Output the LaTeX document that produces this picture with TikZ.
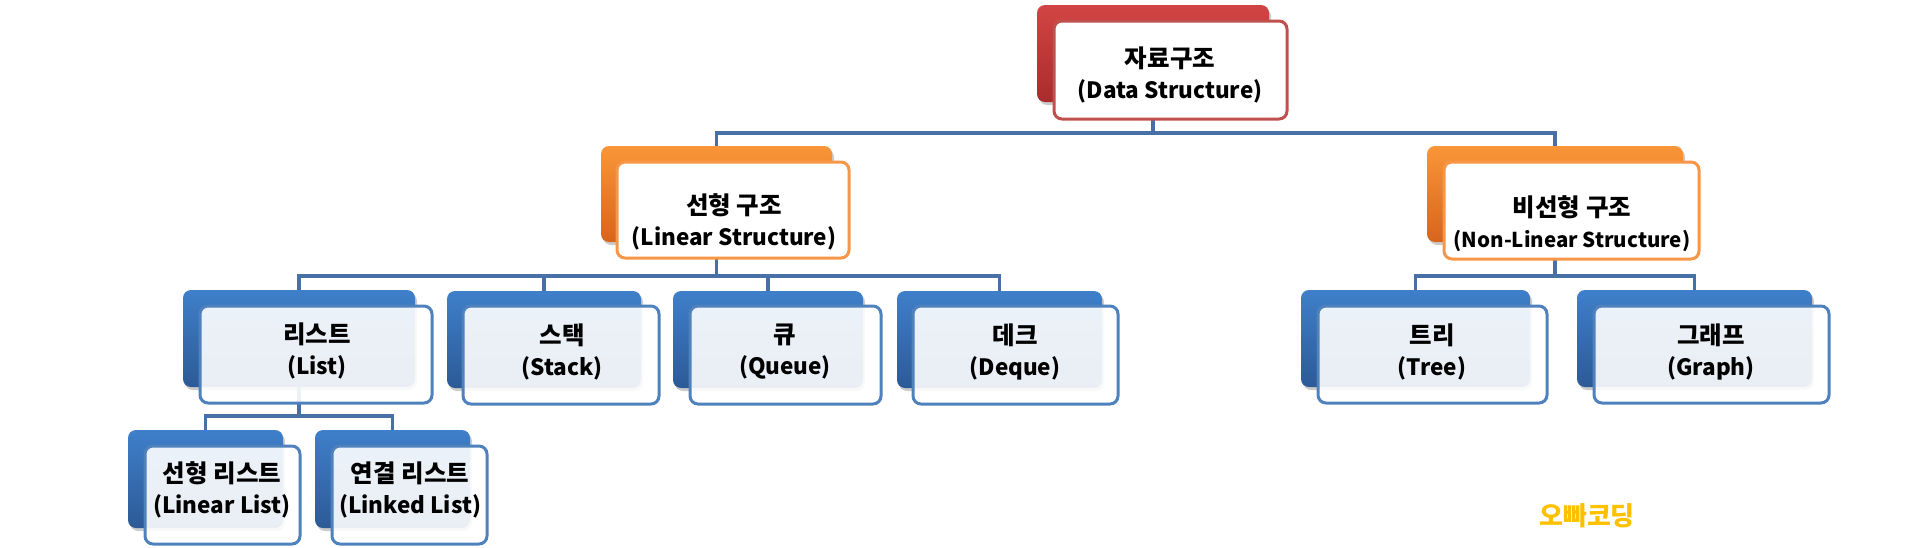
\documentclass[tikz,border=0pt]{standalone}
\usepackage{fontspec}
\newfontfamily\kr{Noto Sans CJK KR}
\usetikzlibrary{shadows}
\pgfdeclarelayer{bg}
\pgfsetlayers{bg,main}
\definecolor{conncol}{HTML}{4670A6}
\definecolor{redtop}{HTML}{D24444}
\definecolor{redbot}{HTML}{A92C2C}
\definecolor{redline}{HTML}{C0504D}
\definecolor{ortop}{HTML}{F99638}
\definecolor{orbot}{HTML}{D8641C}
\definecolor{orline}{HTML}{F79646}
\definecolor{bltop}{HTML}{3F7FCA}
\definecolor{blbot}{HTML}{2C5A96}
\definecolor{blline}{HTML}{4F81BD}
\definecolor{wmark}{HTML}{FFC000}
\newcommand\kl{\fontsize{24.5}{31}\selectfont}
\newcommand\el{\fontsize{22.5}{31}\selectfont}
\newcommand\es{\fontsize{20.5}{31}\selectfont}
\newcommand\klt{\fontsize{24.5}{26.5}\selectfont}
\newcommand\elt{\fontsize{22.5}{26.5}\selectfont}
\tikzset{
  conn/.style={draw=conncol, line width=3.6pt},
  boxbase/.style={rectangle, rounded corners=8pt, inner sep=0pt, outer sep=0pt},
  shad/.style={drop shadow={opacity=0.45, shadow xshift=2pt, shadow yshift=-3pt, fill=black!45}},
  backred/.style={boxbase, shad, top color=redtop, bottom color=redbot},
  backor/.style={boxbase, shad, top color=ortop, bottom color=orbot},
  backbl/.style={boxbase, shad, top color=bltop, bottom color=blbot},
  frontred/.style={boxbase, fill=white, draw=redline, line width=3pt},
  frontor/.style={boxbase, fill=white, draw=orline, line width=3pt},
  frontbl/.style={boxbase, fill=white, fill opacity=0.9, draw=blline, line width=3pt},
  lbl/.style={align=center, inner sep=0pt, text=black, font=\kr\bfseries\fontsize{22.5}{31}\selectfont},
}
\newcommand\bx[6]{%
  \node[#6, minimum width={#4pt-#2pt}, minimum height={#5pt-#3pt}] (#1) at ({(#2+#4)/2},{(#3+#5)/2}) {};}
\begin{document}
\begin{tikzpicture}[x=1pt, y=-1pt]
\useasboundingbox (0,0) rectangle (1924,547);
\coordinate (busA) at (0,133);
\coordinate (busB) at (0,276);
\coordinate (busC) at (0,416);
% back boxes
\bx{topb}{1037}{5}{1269}{102}{backred}
\bx{linb}{601}{146}{832}{242}{backor}
\bx{nonb}{1427}{146}{1683}{242}{backor}
\bx{listb}{183}{290}{415}{387}{backbl}
\bx{stackb}{447}{291}{641}{388}{backbl}
\bx{queueb}{673}{291}{863}{388}{backbl}
\bx{dequeb}{897}{291}{1102}{388}{backbl}
\bx{treeb}{1301}{290}{1530}{387}{backbl}
\bx{graphb}{1577}{290}{1812}{387}{backbl}
\bx{llb}{128}{430}{283}{528}{backbl}
\bx{lkb}{315}{430}{470}{528}{backbl}
% front boxes
\bx{top}{1054}{21}{1287}{119}{frontred}
\bx{lin}{617}{162}{849}{258}{frontor}
\bx{non}{1444}{162}{1699}{259}{frontor}
\bx{list}{200}{306}{432}{403}{frontbl}
\bx{stack}{463}{306}{659}{404}{frontbl}
\bx{queue}{690}{306}{881}{404}{frontbl}
\bx{deque}{913}{306}{1118}{404}{frontbl}
\bx{tree}{1318}{306}{1547}{403}{frontbl}
\bx{graph}{1594}{306}{1829}{403}{frontbl}
\bx{ll}{145}{446}{300}{544}{frontbl}
\bx{lk}{332}{446}{487}{544}{frontbl}
% connectors (behind)
\begin{pgfonlayer}{bg}
\draw[conn] (topb.center) -- (topb.center |- busA) -| (linb.north);
\draw[conn] (topb.center |- busA) -| (nonb.north);
\draw[conn] (linb.center) -- (linb.center |- busB) -| (listb.north);
\draw[conn] (linb.center |- busB) -| (dequeb.north);
\draw[conn] (stackb.north |- busB) -- (stackb.north);
\draw[conn] (queueb.north |- busB) -- (queueb.north);
\draw[conn] (nonb.center) -- (nonb.center |- busB) -| (treeb.north);
\draw[conn] (nonb.center |- busB) -| (graphb.north);
\draw[conn] (listb.center) -- (listb.center |- busC) -| (llb.north);
\draw[conn] (listb.center |- busC) -| (lkb.north);
\end{pgfonlayer}
% labels
\node[lbl] (ttop) at (1170,75) {\klt 자료구조\\\elt (Data Structure)};
\node[lbl] (tlin) at (734,222) {\kl 선형 구조\\\el (Linear Structure)};
\node[lbl] (tnon) at (1572,224) {\kl 비선형 구조\\\es (Non-Linear Structure)};
\node[lbl] (tlist) at (317,351) {\kl 리스트\\\el (List)};
\node[lbl] (tstack) at (562,352) {\kl 스택\\\el (Stack)};
\node[lbl] (tqueue) at (785,352) {\kl 큐\\\el (Queue)};
\node[lbl] (tdeque) at (1015,352) {\kl 데크\\\el (Deque)};
\node[lbl] (ttree) at (1432,352) {\kl 트리\\\el (Tree)};
\node[lbl] (tgraph) at (1711,352) {\kl 그래프\\\el (Graph)};
\node[lbl] (tll) at (222,490) {\kl 선형 리스트\\\el (Linear List)};
\node[lbl] (tlk) at (410,490) {\kl 연결 리스트\\\el (Linked List)};
\node[inner sep=0pt, text=wmark, font=\kr\bfseries\fontsize{26}{30}\selectfont] (wm) at (1587,516) {오빠코딩};
\end{tikzpicture}
\end{document}
